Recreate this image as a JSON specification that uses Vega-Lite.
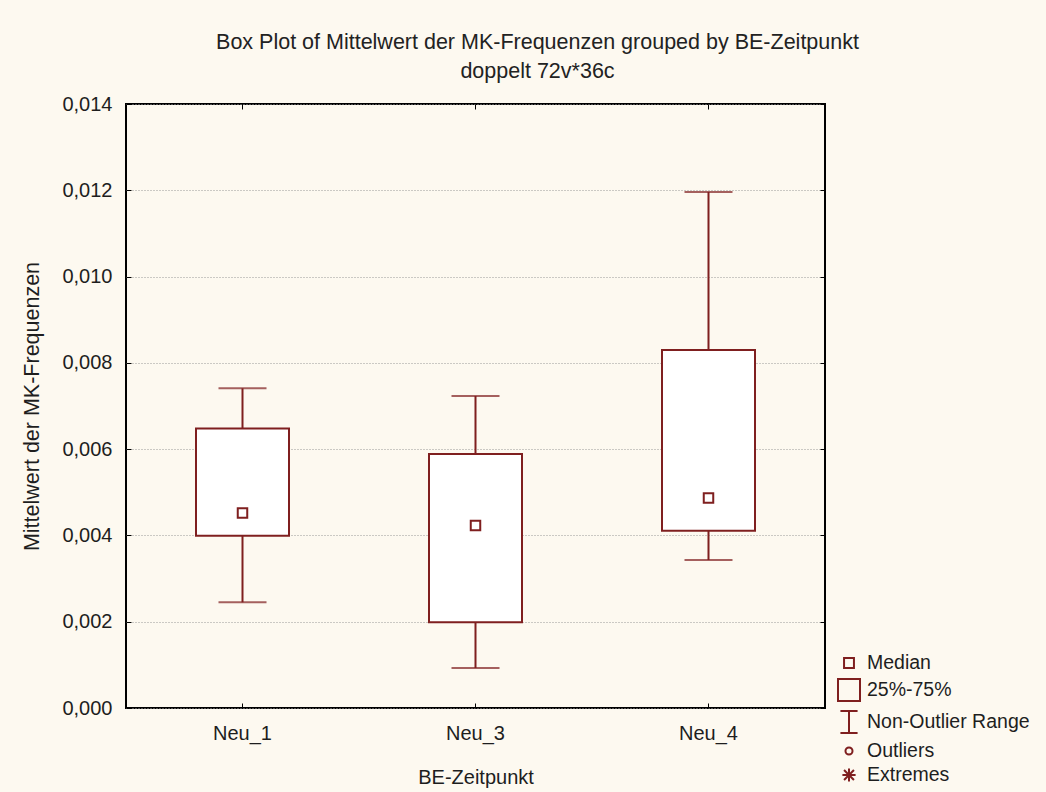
{
  "$schema": "https://vega.github.io/schema/vega-lite/v6.json",
  "autosize": "none",
  "width": 699,
  "height": 604,
  "padding": {"left": 126, "top": 104, "right": 221, "bottom": 84},
  "background": "#fdf9f0",
  "title": {
    "text": "Box Plot of Mittelwert der MK-Frequenzen grouped by  BE-Zeitpunkt",
    "subtitle": "doppelt 72v*36c",
    "anchor": "middle",
    "dx": 62,
    "offset": 12,
    "font": "Liberation Sans",
    "subtitleFont": "Liberation Sans",
    "fontSize": 21.5,
    "subtitleFontSize": 21.5,
    "fontWeight": "normal",
    "color": "#222222",
    "subtitleColor": "#222222",
    "subtitlePadding": 7
  },
  "datasets": {
    "boxes": [
      {"group": "Neu_1", "lo": 0.00245, "q1": 0.00399, "med": 0.00452, "q3": 0.00648, "hi": 0.00741},
      {"group": "Neu_3", "lo": 0.00093, "q1": 0.00199, "med": 0.00423, "q3": 0.00589, "hi": 0.00723},
      {"group": "Neu_4", "lo": 0.00343, "q1": 0.00411, "med": 0.00487, "q3": 0.00830, "hi": 0.01196}
    ],
    "legenditems": [
      {"item": "Median"},
      {"item": "25%-75%"},
      {"item": "Non-Outlier Range"},
      {"item": "Outliers"},
      {"item": "Extremes"}
    ]
  },
  "config": {
    "view": {"stroke": "#000000", "strokeWidth": 2, "fill": "#ffffff"},
    "axis": {
      "labelFont": "Liberation Sans",
      "titleFont": "Liberation Sans",
      "labelFontSize": 20,
      "titleFontSize": 20,
      "titleFontWeight": "normal",
      "labelColor": "#1e1e1e",
      "titleColor": "#1e1e1e",
      "tickColor": "#000000",
      "domain": false
    }
  },
  "resolve": {"axis": {"x": "independent", "y": "independent"}},
  "layer": [
    {
      "data": {"name": "boxes"},
      "mark": {"type": "rule", "color": "#7f1f1f", "strokeWidth": 2},
      "encoding": {
        "x": {
          "field": "group", "type": "nominal",
          "scale": {"paddingInner": 0, "paddingOuter": 0},
          "axis": {"orient": "bottom", "title": "BE-Zeitpunkt", "labelAngle": 0, "tickSize": -5, "labelPadding": 20, "titlePadding": 24, "grid": false}
        },
        "y": {
          "field": "lo", "type": "quantitative",
          "scale": {"domain": [0, 0.014], "nice": false},
          "axis": {
            "orient": "left",
            "title": "Mittelwert der MK-Frequenzen",
            "titleFontSize": 21.5,
            "values": [0, 0.002, 0.004, 0.006, 0.008, 0.010, 0.012, 0.014],
            "labelExpr": "replace(format(datum.value, '.3f'), '.', ',')",
            "tickSize": -5,
            "labelPadding": 19,
            "titlePadding": 18,
            "grid": true,
            "gridColor": "#999999",
            "gridDash": [1, 2],
            "gridWidth": 1
          }
        },
        "y2": {"field": "hi"}
      }
    },
    {
      "data": {"name": "boxes"},
      "mark": {"type": "bar", "width": 93, "fill": "#ffffff", "stroke": "#7f1f1f", "strokeWidth": 2},
      "encoding": {
        "x": {
          "field": "group", "type": "nominal",
          "axis": {"orient": "top", "labels": false, "title": null, "tickSize": -5, "grid": false}
        },
        "y": {
          "field": "q1", "type": "quantitative",
          "axis": {"orient": "right", "labels": false, "title": null, "tickSize": -5, "grid": false,
                   "values": [0, 0.002, 0.004, 0.006, 0.008, 0.010, 0.012, 0.014]}
        },
        "y2": {"field": "q3"}
      }
    },
    {
      "data": {"name": "boxes"},
      "mark": {"type": "tick", "color": "#7f1f1f", "size": 48, "thickness": 2},
      "encoding": {
        "x": {"field": "group", "type": "nominal", "axis": null},
        "y": {"field": "lo", "type": "quantitative", "axis": null}
      }
    },
    {
      "data": {"name": "boxes"},
      "mark": {"type": "tick", "color": "#7f1f1f", "size": 48, "thickness": 2},
      "encoding": {
        "x": {"field": "group", "type": "nominal", "axis": null},
        "y": {"field": "hi", "type": "quantitative", "axis": null}
      }
    },
    {
      "data": {"name": "boxes"},
      "mark": {"type": "point", "shape": "square", "size": 90, "filled": false, "color": "#7f1f1f", "strokeWidth": 2, "opacity": 1},
      "encoding": {
        "x": {"field": "group", "type": "nominal", "axis": null},
        "y": {"field": "med", "type": "quantitative", "axis": null}
      }
    },
    {
      "data": {"name": "legenditems"},
      "mark": {"type": "point", "filled": false, "color": "#7f1f1f", "opacity": 0},
      "encoding": {
        "shape": {
          "field": "item", "type": "nominal",
          "scale": {
            "domain": ["Median", "25%-75%", "Non-Outlier Range", "Outliers", "Extremes"],
            "range": [
              "M-0.45,-0.45H0.45V0.45H-0.45Z",
              "M-1,-1H1V1H-1Z",
              "M-0.78,-1H0.78M0,-1V1M-0.78,1H0.78",
              "M-0.32,0A0.32,0.32,0,1,0,0.32,0A0.32,0.32,0,1,0,-0.32,0Z",
              "M-0.6,0H0.6M0,-0.6V0.6M-0.45,-0.45L0.45,0.45M-0.45,0.45L0.45,-0.45"
            ]
          },
          "legend": {
            "title": null,
            "orient": "none",
            "legendX": 711,
            "legendY": 547,
            "padding": 0,
            "symbolSize": 484,
            "symbolStrokeColor": "#7f1f1f",
            "symbolFillColor": "transparent",
            "symbolStrokeWidth": 2,
            "symbolOpacity": 1,
            "labelFont": "Liberation Sans",
            "labelFontSize": 19.5,
            "labelColor": "#1e1e1e",
            "labelOffset": 6,
            "rowPadding": 2,
            "labelLimit": 300
          }
        }
      }
    }
  ]
}
